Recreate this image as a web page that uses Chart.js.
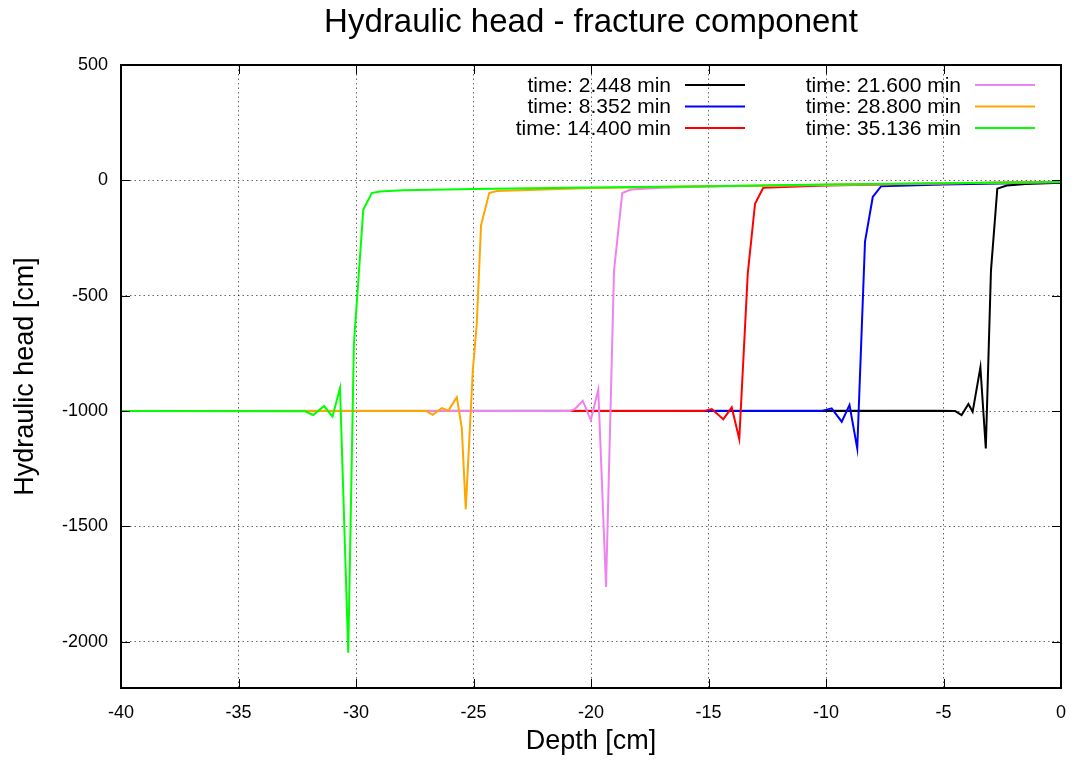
<!DOCTYPE html>
<html>
<head>
<meta charset="utf-8">
<script src="https://cdn.jsdelivr.net/npm/chart.js@4.4.1/dist/chart.umd.min.js"></script>
<style>
  html, body { margin: 0; padding: 0; background: #fff; }
  #wrap { width: 1078px; height: 763px; }
</style>
</head>
<body>
<div id="wrap"><canvas id="headChart" width="1078" height="763"></canvas></div>
<script>
// series: depth [cm] / hydraulic head [cm]
const chartTitle = "Hydraulic head - fracture component";
const timeLabels = ["time: 2.448 min", "time: 8.352 min", "time: 14.400 min",
                    "time: 21.600 min", "time: 28.800 min", "time: 35.136 min"];
const lineColors = ["#000000", "#0000ff", "#ff0000", "#ee82ee", "#ffa500", "#00ff00"];

const depth1 = [-40, -5.2, -4.5, -4.23, -3.94, -3.76, -3.43, -3.20, -2.98, -2.71, -2.31, -1.5, 0];
const head1  = [-1000, -998, -1000, -1017, -969, -1003, -810, -1162, -391, -36, -22, -16, -10];

const depth2 = [-40, -10.2, -9.76, -9.33, -9.0, -8.67, -8.34, -8.01, -7.66, -5, -2, 0];
const head2  = [-1000, -1000, -988, -1046, -974, -1162, -265, -72, -26, -18, -12, -8];

const depth3 = [-40, -15.2, -14.86, -14.37, -14.01, -13.69, -13.33, -13.02, -12.67, -10, -5, 0];
const head3  = [-1000, -1000, -991, -1035, -984, -1121, -405, -101, -32, -22, -14, -7];

const depth4 = [-40, -20.9, -20.68, -20.35, -20.01, -19.69, -19.36, -19.02, -18.67, -18.3, -17, -15, -10, -5, 0];
const head4  = [-1000, -1000, -990, -955, -1039, -907, -1762, -391, -55, -40, -32, -27, -20, -13, -7];

const depth5 = [-40, -27.0, -26.74, -26.35, -26.07, -25.71, -25.50, -25.33, -25.03, -24.86, -24.68, -24.33, -24.01, -20, -15, -10, -5, 0];
const head5  = [-1000, -1000, -1016, -987, -998, -940, -1071, -1425, -825, -622, -195, -55, -46, -33, -26, -19, -12, -7];

const depth6 = [-40, -32.17, -31.82, -31.36, -31.0, -30.68, -30.33, -30.09, -29.69, -29.33, -28.98, -28, -25, -20, -15, -10, -5, 0];
const head6  = [-1000, -1001, -1017, -978, -1024, -900, -2047, -709, -127, -55, -48, -43, -37, -31, -25, -18, -12, -7];

const xTicks = [-40, -35, -30, -25, -20, -15, -10, -5, 0];
const yTicks = [-2000, -1500, -1000, -500, 0, 500];

const allDepths = [depth1, depth2, depth3, depth4, depth5, depth6];
const allHeads = [head1, head2, head3, head4, head5, head6];

const FONT = "'Liberation Sans', Arial, Helvetica, sans-serif";

// gnuplot-like frame with inward ticks on all four sides, title over the plot area
const framePlugin = {
  id: "frame",
  afterDatasetsDraw(chart) {
    const { ctx, chartArea: a, scales } = chart;
    ctx.save();
    ctx.strokeStyle = "#000";
    ctx.lineWidth = 1;
    const tl = 9;
    ctx.beginPath();
    scales.x.ticks.forEach((t) => {
      const px = Math.round(scales.x.getPixelForValue(t.value)) + 0.5;
      ctx.moveTo(px, a.bottom); ctx.lineTo(px, a.bottom - tl);
      ctx.moveTo(px, a.top); ctx.lineTo(px, a.top + tl);
    });
    scales.y.ticks.forEach((t) => {
      const py = Math.round(scales.y.getPixelForValue(t.value)) + 0.5;
      ctx.moveTo(a.left, py); ctx.lineTo(a.left + tl, py);
      ctx.moveTo(a.right, py); ctx.lineTo(a.right - tl, py);
    });
    ctx.stroke();
    ctx.lineWidth = 2;
    ctx.strokeRect(a.left, a.top, a.right - a.left, a.bottom - a.top);

    ctx.fillStyle = "#000";
    ctx.font = "33px " + FONT;
    ctx.textAlign = "center";
    ctx.textBaseline = "alphabetic";
    ctx.fillText(chartTitle, (a.left + a.right) / 2, 32);
    ctx.restore();
  },
};

// key in the top right corner: label right-aligned, then sample line
const keyPlugin = {
  id: "key",
  afterDraw(chart) {
    const { ctx, chartArea: a } = chart;
    ctx.save();
    ctx.font = "21px " + FONT;
    ctx.textAlign = "right";
    ctx.textBaseline = "middle";
    chart.data.datasets.forEach((ds, i) => {
      const col = Math.floor(i / 3);
      const row = i % 3;
      const sampleEnd = a.right - 26 - (1 - col) * 290;
      const sampleStart = sampleEnd - 60;
      const y = a.top + 20 + row * 21.5;
      ctx.fillStyle = "#000";
      ctx.fillText(ds.label, sampleStart - 14, y + 1);
      ctx.strokeStyle = ds.borderColor;
      ctx.lineWidth = 2;
      ctx.beginPath();
      ctx.moveTo(sampleStart, y);
      ctx.lineTo(sampleEnd, y);
      ctx.stroke();
    });
    ctx.restore();
  },
};

const ctx = document.getElementById("headChart");

new Chart(ctx, {
  type: "scatter",
  data: {
    datasets: timeLabels.map((label, i) => ({
      label,
      data: allDepths[i].map((x, k) => ({ x, y: allHeads[i][k] })),
      borderColor: lineColors[i],
      backgroundColor: lineColors[i],
      borderWidth: 2,
      showLine: true,
      tension: 0,
      pointRadius: 0,
      order: timeLabels.length - i, // later times drawn on top
    })),
  },
  options: {
    responsive: false,
    animation: false,
    devicePixelRatio: 1,
    layout: { padding: { left: 0, right: 17, top: 65, bottom: 0 } },
    plugins: {
      legend: { display: false },
      tooltip: { enabled: false },
      title: { display: false },
    },
    scales: {
      x: {
        type: "linear",
        min: -40,
        max: 0,
        afterBuildTicks: (axis) => {
          axis.ticks = xTicks.map((value) => ({ value }));
        },
        afterFit: (scale) => {
          scale.height = 75;
          scale.paddingLeft = 0;
          scale.paddingRight = 0;
        },
        grid: {
          color: "rgba(0,0,0,0.6)",
          lineWidth: 1,
          drawTicks: false,
        },
        border: { display: false, dash: [1.5, 3] },
        ticks: {
          color: "#000",
          padding: 14,
          font: { family: FONT, size: 18 },
          callback: (v) => `${v}`,
        },
        title: {
          display: true,
          text: "Depth [cm]",
          color: "#000",
          font: { family: FONT, size: 27 },
          padding: { top: 4, bottom: 5 },
        },
      },
      y: {
        type: "linear",
        min: -2200,
        max: 500,
        afterBuildTicks: (axis) => {
          axis.ticks = yTicks.map((value) => ({ value }));
        },
        afterFit: (scale) => { scale.width = 121; },
        grid: {
          color: "rgba(0,0,0,0.6)",
          lineWidth: 1,
          drawTicks: false,
        },
        border: { display: false, dash: [1.5, 3] },
        ticks: {
          color: "#000",
          padding: 13,
          font: { family: FONT, size: 18 },
          callback: (v) => `${v}`,
        },
        title: {
          display: true,
          text: "Hydraulic head [cm]",
          color: "#000",
          font: { family: FONT, size: 27 },
          padding: { top: 9, bottom: 4 },
        },
      },
    },
  },
  plugins: [framePlugin, keyPlugin],
});
</script>
</body>
</html>
